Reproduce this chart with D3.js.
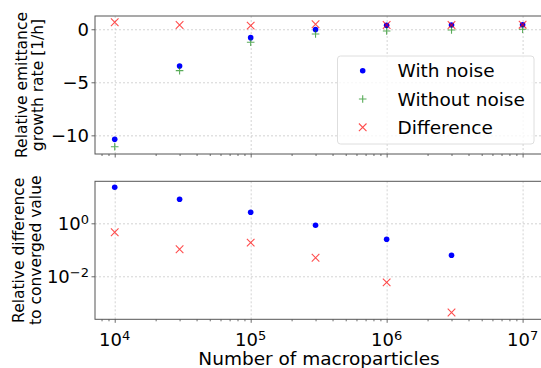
<!DOCTYPE html>
<html>
<head>
<meta charset="utf-8">
<script src="https://cdn.jsdelivr.net/npm/d3@7"></script>
<style>
  body { margin: 0; background: #fff; }
  svg { display: block; font-family: "DejaVu Sans", sans-serif; }
  .grid line { stroke: #c8c8c8; stroke-width: 0.8; stroke-dasharray: 2,2; }
  .grid path { display: none; }
  .tick-lbl { font-size: 18px; fill: #000; }
  .ax-lbl { font-size: 15.5px; fill: #000; }
</style>
</head>
<body>
<div id="chart"></div>
<script>
// data
var particles = [1e4, 3e4, 1e5, 3e5, 1e6, 3e6, 1e7];
var withNoise = [-10.38, -3.46, -0.79, -0.02, 0.37, 0.40, 0.43];
var withoutNoise = [-11.07, -3.90, -1.23, -0.44, -0.16, -0.07, 0.00];
var difference = [0.66, 0.40, 0.34, 0.47, 0.40, 0.40, 0.43];

var relParticles = [1e4, 3e4, 1e5, 3e5, 1e6, 3e6];
var relWithNoise = [22.9, 8.1, 2.6, 0.84, 0.25, 0.062];
var relDifference = [0.46, 0.105, 0.186, 0.05, 0.0059, 0.00043];

var xTicks = [1e4, 1e5, 1e6, 1e7];
var xTickExp = ["4", "5", "6", "7"];
var topTicks = [0, -5, -10];
var topTickLabels = ["0", "\u22125", "\u221210"];
var botTicks = [1, 1e-2];
var botTickExp = ["0", "\u22122"];
var legendLabels = ["With noise", "Without noise", "Difference"];

var width = 541, height = 368;
var left = 95, right = 543;
var topBox = { top: 16, bottom: 154 };
var botBox = { top: 181.3, bottom: 319.3 };
var ms = 3.8;  // half size of + and x markers

var svg = d3.select("#chart")
  .append("svg")
    .attr("width", width)
    .attr("height", height);

var x = d3.scaleLog()
  .domain([Math.pow(10, 3.855), Math.pow(10, 7.15)])
  .range([left, right]);

var yTop = d3.scaleLinear()
  .domain([-11.76, 1.25])
  .range([topBox.bottom, topBox.top]);

var yBot = d3.scaleLog()
  .domain([Math.pow(10, -3.623), Math.pow(10, 1.585)])
  .range([botBox.bottom, botBox.top]);

// minor ticks 2..9 x 10^k inside domain
var minorTicks = [];
for (var e = 3; e <= 7; e++) {
  for (var m = 2; m <= 9; m++) {
    var v = m * Math.pow(10, e);
    if (v > x.domain()[0] && v < x.domain()[1]) minorTicks.push(v);
  }
}

function drawPanel(box, y, yTickVals) {
  var g = svg.append("g");

  // grid
  g.append("g")
    .attr("class", "grid")
    .attr("transform", "translate(0," + box.bottom + ")")
    .call(d3.axisBottom(x).tickValues(xTicks).tickFormat("")
      .tickSize(-(box.bottom - box.top)));
  g.append("g")
    .attr("class", "grid")
    .attr("transform", "translate(" + left + ",0)")
    .call(d3.axisLeft(y).tickValues(yTickVals).tickFormat("")
      .tickSize(-(right - left)));

  // x ticks, major and minor
  var xa = g.append("g")
    .attr("transform", "translate(0," + box.bottom + ")")
    .call(d3.axisBottom(x).tickValues(xTicks).tickFormat("").tickSize(3.5));
  var xm = g.append("g")
    .attr("transform", "translate(0," + box.bottom + ")")
    .call(d3.axisBottom(x).tickValues(minorTicks).tickFormat("").tickSize(2));
  var ya = g.append("g")
    .attr("transform", "translate(" + left + ",0)")
    .call(d3.axisLeft(y).tickValues(yTickVals).tickFormat("").tickSize(3.5));
  [xa, xm, ya].forEach(function (a) {
    a.select(".domain").remove();
    a.selectAll("line").attr("stroke", "#444").attr("stroke-width", 0.8);
  });

  // frame
  g.append("rect")
    .attr("x", left)
    .attr("y", box.top)
    .attr("width", right - left)
    .attr("height", box.bottom - box.top)
    .attr("fill", "none")
    .attr("stroke", "#555")
    .attr("stroke-width", 1);

  return g;
}

function dots(g, xs, ys, y) {
  g.append("g")
    .selectAll("circle")
    .data(xs)
    .enter()
      .append("circle")
      .attr("cx", (d) => x(d))
      .attr("cy", (d, i) => y(ys[i]))
      .attr("r", 2.8)
      .attr("fill", "#0000ff");
}

function pluses(g, xs, ys, y) {
  g.append("g")
    .selectAll("path")
    .data(xs)
    .enter()
      .append("path")
      .attr("d", (d, i) => {
        var cx = x(d), cy = y(ys[i]);
        return "M" + (cx - ms) + "," + cy + "H" + (cx + ms) +
               "M" + cx + "," + (cy - ms) + "V" + (cy + ms);
      })
      .attr("stroke", "#008000")
      .attr("stroke-opacity", 0.65)
      .attr("stroke-width", 1.1)
      .attr("fill", "none");
}

function crosses(g, xs, ys, y) {
  g.append("g")
    .selectAll("path")
    .data(xs)
    .enter()
      .append("path")
      .attr("d", (d, i) => {
        var cx = x(d), cy = y(ys[i]);
        return "M" + (cx - ms) + "," + (cy - ms) + "L" + (cx + ms) + "," + (cy + ms) +
               "M" + (cx - ms) + "," + (cy + ms) + "L" + (cx + ms) + "," + (cy - ms);
      })
      .attr("stroke", "#ff0000")
      .attr("stroke-opacity", 0.7)
      .attr("stroke-width", 1.1)
      .attr("fill", "none");
}

// top panel
var gTop = drawPanel(topBox, yTop, topTicks);
dots(gTop, particles, withNoise, yTop);
pluses(gTop, particles, withoutNoise, yTop);
crosses(gTop, particles, difference, yTop);

gTop.selectAll(".ytl")
  .data(topTicks)
  .enter()
    .append("text")
    .attr("class", "tick-lbl")
    .attr("x", left - 6)
    .attr("y", (d) => yTop(d))
    .attr("dy", "0.36em")
    .attr("text-anchor", "end")
    .text((d, i) => topTickLabels[i]);

// bottom panel
var gBot = drawPanel(botBox, yBot, botTicks);
dots(gBot, relParticles, relWithNoise, yBot);
crosses(gBot, relParticles, relDifference, yBot);

function powLabel(sel, base, exp) {
  sel.append("tspan").text(base);
  sel.append("tspan")
    .attr("dy", "-0.45em")
    .attr("font-size", "13px")
    .text(exp);
}

botTicks.forEach(function (t, i) {
  var txt = gBot.append("text")
    .attr("class", "tick-lbl")
    .attr("x", left - 6)
    .attr("y", yBot(t) + 6.5)
    .attr("text-anchor", "end");
  powLabel(txt, "10", botTickExp[i]);
});

xTicks.forEach(function (t, i) {
  var txt = gBot.append("text")
    .attr("class", "tick-lbl")
    .attr("x", x(t))
    .attr("y", 346)
    .attr("text-anchor", "middle");
  powLabel(txt, "10", xTickExp[i]);
});

// axis labels
svg.append("text")
  .attr("x", (left + right) / 2)
  .attr("y", 365)
  .attr("text-anchor", "middle")
  .style("font-size", "18.5px")
  .text("Number of macroparticles");

function yLabel(lines, baselines, cy) {
  lines.forEach(function (s, i) {
    svg.append("text")
      .attr("class", "ax-lbl")
      .attr("transform", "translate(" + baselines[i] + "," + cy + ") rotate(-90)")
      .attr("text-anchor", "middle")
      .text(s);
  });
}
yLabel(["Relative emittance", "growth rate [1/h]"], [26.5, 43], (topBox.top + topBox.bottom) / 2);
yLabel(["Relative difference", "to converged value"], [24, 40.5], (botBox.top + botBox.bottom) / 2);

// legend
var legend = svg.append("g");
legend.append("rect")
  .attr("x", 337.5)
  .attr("y", 56)
  .attr("width", 196.5)
  .attr("height", 88)
  .attr("rx", 3)
  .attr("fill", "#fff")
  .attr("fill-opacity", 0.8)
  .attr("stroke", "#d6d6d6")
  .attr("stroke-width", 0.8);

var rowY = d3.scalePoint().domain(legendLabels).range([70.7, 127.3]);
var mx = 362.7;
legend.append("circle")
  .attr("cx", mx).attr("cy", rowY(legendLabels[0])).attr("r", 2.8)
  .attr("fill", "#0000ff");
legend.append("path")
  .attr("d", "M" + (mx - ms) + "," + rowY(legendLabels[1]) + "h" + (2 * ms) +
             "M" + mx + "," + (rowY(legendLabels[1]) - ms) + "v" + (2 * ms))
  .attr("stroke", "#008000").attr("stroke-opacity", 0.65).attr("stroke-width", 1.1);
legend.append("path")
  .attr("d", "M" + (mx - ms) + "," + (rowY(legendLabels[2]) - ms) + "l" + (2 * ms) + "," + (2 * ms) +
             "m" + (-2 * ms) + ",0l" + (2 * ms) + "," + (-2 * ms))
  .attr("stroke", "#ff0000").attr("stroke-opacity", 0.7).attr("stroke-width", 1.1);

legend.selectAll(".leg-text")
  .data(legendLabels)
  .enter()
    .append("text")
    .attr("x", 397.5)
    .attr("y", (d) => rowY(d))
    .attr("dy", "0.36em")
    .style("font-size", "18.5px")
    .text((d) => d);
</script>
</body>
</html>
